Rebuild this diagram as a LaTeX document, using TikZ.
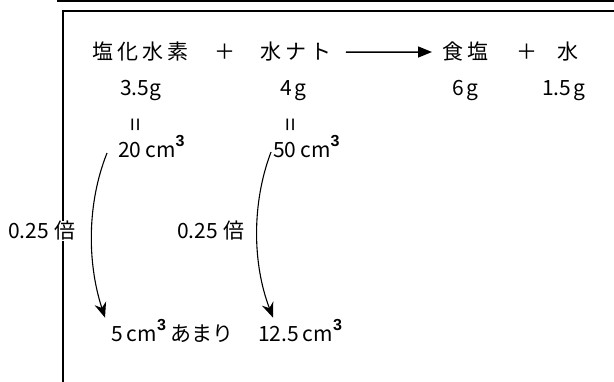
\documentclass[tikz,border=0pt]{standalone}
\usepackage{fontspec}
\setmainfont{Noto Sans CJK JP}
\newfontfamily\cjksp{Noto Sans CJK JP}[LetterSpace=20]
\newfontfamily\libsans{Liberation Sans}
\usetikzlibrary{arrows.meta}
\newcommand\cmcube{cm\raisebox{11pt}{\libsans\bfseries\fontsize{16}{16}\selectfont 3}}
\begin{document}
\begin{tikzpicture}[x=1pt,y=-1pt,
  txt/.style={inner sep=0pt,anchor=base west,font=\fontsize{21}{21}\selectfont},
  jtxt/.style={inner sep=0pt,anchor=base west,font=\cjksp\fontsize{21}{21}\selectfont},
  plus/.style={inner sep=0pt,anchor=base,font=\fontsize{21}{21}\selectfont},
  eqv/.style={inner sep=0pt,rotate=90,font=\fontsize{24}{24}\selectfont},
  frame/.style={line width=2.5pt},
  curv/.style={line width=1.1pt,-{Stealth[length=15pt,width=12pt]}}]
\useasboundingbox (0,0) rectangle (614,382);
% frame
\draw[frame] (57,1.2) -- (614,1.2);
\draw[frame] (614,11) -- (63,11) -- (63,382);
% row 1
\node[jtxt] (t1) at (92,60) {塩化水素};
\node[plus] (p1) at (225,60) {＋};
\node[jtxt] (t2) at (260,60) {水ナト};
\node[jtxt] (t3) at (442,60) {食塩};
\node[plus] (p2) at (527,60) {＋};
\node[jtxt] (t4) at (557,60) {水};
\draw[line width=1.5pt,-{Triangle[length=14pt,width=11pt]}] ([xshift=14pt]t2.east) -- ([xshift=-10pt]t3.west);
% row 2
\node[txt] (m1) at (120,96) {3.5g};
\node[txt] (m2) at (280,96) {4\hspace{3pt}g};
\node[txt] (m3) at (452,96) {6\hspace{3pt}g};
\node[txt] (m4) at (542,96) {1.5\hspace{2pt}g};
% equals
\node[eqv] (e1) at (138,125) {=};
\node[eqv] (e2) at (293,125) {=};
% volumes
\node[txt] (v1) at (118,158) {20\hspace{4pt}\cmcube};
\node[txt] (v2) at (273,158) {50\hspace{4pt}\cmcube};
% factors
\node[txt,fill=white] (k1) at (8,239) {0.25\hspace{5pt}倍};
\node[txt] (k2) at (177,239) {0.25\hspace{5pt}倍};
% results
\node[txt] (r1) at (111,342) {5\hspace{4pt}\cmcube\hspace{5pt}あまり};
\node[txt] (r2) at (258,342) {12.5\hspace{4pt}\cmcube};
% curved arrows
\draw[curv] ([xshift=-11pt,yshift=-6pt]v1.west) .. controls +(-20pt,-50pt) and +(-18pt,55pt) .. ([xshift=-6pt,yshift=2pt]r1.north west);
\draw[curv] ([xshift=-2pt,yshift=-5pt]v2.west) .. controls +(-19pt,-50pt) and +(-21pt,55pt) .. ([xshift=15pt,yshift=2pt]r2.north west);
\end{tikzpicture}
\end{document}
